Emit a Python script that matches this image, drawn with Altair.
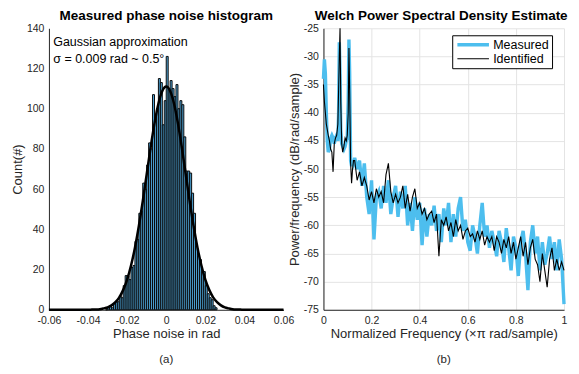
import altair as alt
import pandas as pd

FONT = "Liberation Sans"
INK = "#262626"

# ---------------- (a) histogram ----------------
bin_centers = [-0.0305, -0.0295, -0.0285, -0.0275, -0.0265, -0.0255, -0.0245, -0.0235,
               -0.0225, -0.0215, -0.0205, -0.0195, -0.0185, -0.0175, -0.0165, -0.0155,
               -0.0145, -0.0135, -0.0125, -0.0115, -0.0105, -0.0095, -0.0085, -0.0075,
               -0.0065, -0.0055, -0.0045, -0.0035, -0.0025, -0.0015, -0.0005, 0.0005,
               0.0015, 0.0025, 0.0035, 0.0045, 0.0055, 0.0065, 0.0075, 0.0085,
               0.0095, 0.0105, 0.0115, 0.0125, 0.0135, 0.0145, 0.0155, 0.0165,
               0.0175, 0.0185, 0.0195, 0.0205, 0.0215, 0.0225, 0.0235, 0.0245, 0.0255]
counts = [0, 1, 2, 1, 3, 4, 4, 7, 6, 12, 17, 17, 15, 21, 22, 34, 35, 48, 49, 63, 60, 72,
          83, 80, 107, 95, 100, 115, 113, 92, 104, 126, 110, 114, 110, 106, 112, 100, 104,
          102, 86, 69, 69, 68, 58, 48, 32, 27, 25, 19, 19, 12, 8, 6, 5, 2, 1]
BIN_HALF = 0.0005

fit_x = [-0.060, -0.058, -0.056, -0.054, -0.052, -0.050, -0.048, -0.046, -0.044, -0.042,
         -0.040, -0.038, -0.036, -0.034, -0.032, -0.030, -0.028, -0.026, -0.024, -0.022,
         -0.020, -0.018, -0.016, -0.014, -0.012, -0.010, -0.008, -0.006, -0.004, -0.002,
         0.000, 0.002, 0.004, 0.006, 0.008, 0.010, 0.012, 0.014, 0.016, 0.018,
         0.020, 0.022, 0.024, 0.026, 0.028, 0.030, 0.032, 0.034, 0.036, 0.038,
         0.040, 0.042, 0.044, 0.046, 0.048, 0.050, 0.052, 0.054, 0.056, 0.058, 0.060]
fit_y = [0, 0, 0, 0, 0, 0, 0, 0, 0, 0,
         0, 0.08, 0.15, 0.3, 0.7, 1.2, 2.2, 3.8, 6.2, 9.9,
         15.0, 22.0, 30.9, 41.7, 54.0, 67.3, 80.6, 92.7, 102.5, 108.8,
         111.0, 108.8, 102.5, 92.7, 80.6, 67.3, 54.0, 41.7, 30.9, 22.0,
         15.0, 9.9, 6.2, 3.8, 2.2, 1.2, 0.7, 0.3, 0.15, 0.08,
         0, 0, 0, 0, 0, 0, 0, 0, 0, 0, 0]

note_lines = ["Gaussian approximation", "σ = 0.009 rad ~ 0.5°"]
note_x = [-0.0578, -0.0578]
note_y = [133, 124.6]

# ---------------- (b) PSD ----------------
freq = [0.000, 0.004, 0.008, 0.012, 0.016, 0.020, 0.025, 0.030, 0.035, 0.040,
        0.045, 0.050, 0.055, 0.060, 0.063, 0.066, 0.069, 0.072, 0.076, 0.080,
        0.085, 0.090, 0.095, 0.099, 0.103, 0.106, 0.109, 0.113, 0.117, 0.121, 0.125,
        0.13, 0.14, 0.15, 0.16, 0.17, 0.18, 0.19, 0.20, 0.21, 0.22,
        0.23, 0.24, 0.25, 0.26, 0.27, 0.28, 0.29, 0.30, 0.31, 0.32,
        0.33, 0.34, 0.35, 0.36, 0.37, 0.38, 0.39, 0.40, 0.41, 0.42,
        0.43, 0.44, 0.45, 0.46, 0.47, 0.48, 0.49, 0.50, 0.51, 0.52,
        0.53, 0.54, 0.55, 0.56, 0.57, 0.58, 0.59, 0.60, 0.61, 0.62,
        0.63, 0.64, 0.65, 0.66, 0.67, 0.68, 0.69, 0.70, 0.71, 0.72,
        0.73, 0.74, 0.75, 0.76, 0.77, 0.78, 0.79, 0.80, 0.81, 0.82,
        0.83, 0.84, 0.85, 0.86, 0.87, 0.88, 0.89, 0.90, 0.91, 0.92,
        0.93, 0.94, 0.95, 0.96, 0.97, 0.98, 0.99, 1.00]
measured = [-34, -30.5, -33, -40, -45, -47, -46.5, -44.5, -44, -44.5,
            -45.5, -44.5, -44, -45, -40, -27.5, -33, -43, -45.5, -46,
            -46.5, -46, -45, -44.5, -38, -27, -33, -48.5, -49.5, -48.5, -49,
            -48, -50, -48.5, -53, -49, -55, -58, -52, -62.5, -55,
            -54, -57, -53, -56, -52, -58, -55, -53, -58.5, -54,
            -57, -53, -60, -56, -61, -55, -59, -56, -63.5, -57,
            -62, -58, -60, -56.5, -61, -58, -63, -57, -60, -56,
            -63, -58, -62, -57, -55, -61, -59, -63, -64.5, -60,
            -62, -65, -60, -56, -62, -60, -64, -61, -63, -65.5,
            -61, -63, -66.5, -60.5, -64, -68, -62, -64, -69, -63,
            -61, -65, -71.5, -63, -60, -65, -62, -68, -63, -67,
            -65, -62, -66, -63, -68, -62.5, -66, -74]
identified = [-35, -38, -40, -42, -43, -44, -45, -46.5, -47, -50.5,
              -45.5, -44.5, -44, -42, -36, -30, -25, -38, -45.5, -47,
              -46, -44.5, -45, -44, -40, -28.5, -36, -49, -52.5, -50, -48.5,
              -48.5, -52, -50.5, -53, -51.5, -53, -55.5, -54, -56, -53.5,
              -55, -54, -56, -51, -49, -54, -56, -54.5, -56, -55,
              -53, -57, -54.5, -57.5, -55, -53.5, -57, -56, -58, -57,
              -59, -58, -57.5, -59.5, -58, -65.5, -59, -60, -58.5, -61,
              -59.5, -62, -59, -61, -60, -62.5, -61, -60.5, -62, -61.5,
              -63, -61, -62.5, -61, -63.5, -62, -63, -62, -64.5, -62,
              -63, -65, -62.5, -64, -62, -65, -63, -66, -64, -62,
              -65.5, -63, -67, -64, -62.5, -66, -67, -70, -65, -68,
              -71, -66, -64, -68, -66, -68, -66.5, -68]
series_names = ["Measured", "Identified"]
series_colors = ["#4DBEEE", "#000000"]
series_widths = [3.4, 1.1]

titles = ["Measured phase noise histogram", "Welch Power Spectral Density Estimate"]
captions = ["(a)", "(b)"]

W_A, W_B, H = 235, 241, 282
TITLE_Y = -8.5
CAP_Y = H + 50


def title_layer(text, w, shift=0):
    return alt.Chart(pd.DataFrame({"t": [text]})).mark_text(
        font=FONT, fontSize=13.5, fontWeight="bold", color="black",
        baseline="alphabetic", align="center").encode(
        x=alt.value(w / 2 + shift), y=alt.value(TITLE_Y), text="t:N")


def caption_layer(text, w):
    return alt.Chart(pd.DataFrame({"t": [text]})).mark_text(
        font=FONT, fontSize=11.5, color=INK, baseline="middle").encode(
        x=alt.value(w / 2), y=alt.value(CAP_Y), text="t:N")


# ---------- panel (a) ----------
hist_df = pd.DataFrame({"lo": [c - BIN_HALF for c in bin_centers],
                        "hi": [c + BIN_HALF for c in bin_centers],
                        "count": counts, "base": [0] * len(counts)})
fit_df = pd.DataFrame({"lo": fit_x, "count": fit_y})
note_df = pd.DataFrame({"t": note_lines, "lo": note_x, "count": note_y})

xa = alt.X("lo:Q", title="Phase noise in rad",
           scale=alt.Scale(domain=[-0.06, 0.06], nice=False),
           axis=alt.Axis(values=[-0.06, -0.04, -0.02, 0, 0.02, 0.04, 0.06], grid=False,
                         labelFlush=False, labelOverlap=False,
                         labelExpr="datum.value == 0 ? '0' : (datum.value < 0 ? '-' : '') + format(abs(datum.value), '.2f')"))
ya = alt.Y("count:Q", title="Count(#)",
           scale=alt.Scale(domain=[0, 140], nice=False),
           axis=alt.Axis(values=[0, 20, 40, 60, 80, 100, 120, 140], grid=False))

bars = alt.Chart(hist_df).mark_bar(fill="#4fa8dc", stroke="#0a0a0a", strokeWidth=1.0).encode(
    x=xa, x2="hi:Q", y=ya, y2="base:Q")
fit = alt.Chart(fit_df).mark_line(color="black", strokeWidth=2.5, interpolate="monotone").encode(
    x=xa, y=ya)
notes = alt.Chart(note_df).mark_text(align="left", baseline="middle", font=FONT,
                                     fontSize=12.5, color="black").encode(
    x=xa, y=ya, text="t:N")

panel_a = alt.layer(bars, fit, notes, title_layer(titles[0], W_A),
                    caption_layer(captions[0], W_A)).properties(width=W_A, height=H)

# ---------- panel (b) ----------
psd_m = pd.DataFrame({"f": freq, "p": measured, "series": series_names[0]})
psd_i = pd.DataFrame({"f": freq, "p": identified, "series": series_names[1]})

xb = alt.X("f:Q", title="Normalized Frequency  (×π rad/sample)",
           scale=alt.Scale(domain=[0, 1], nice=False),
           axis=alt.Axis(values=[0, 0.2, 0.4, 0.6, 0.8, 1], grid=True, labelFlush=False,
                         labelExpr="datum.value == 0 ? '0' : datum.value == 1 ? '1' : format(datum.value, '.1f')"))
yb = alt.Y("p:Q", title="Power/frequency (dB/rad/sample)",
           scale=alt.Scale(domain=[-75, -25], nice=False),
           axis=alt.Axis(values=[-75, -70, -65, -60, -55, -50, -45, -40, -35, -30, -25], grid=True,
                         labelExpr="(datum.value < 0 ? '-' : '') + format(abs(datum.value), 'd')"))
leg = dict(title=None, orient="none", legendX=404, legendY=7,
           symbolType="stroke", symbolSize=1000, clipHeight=13, labelFontSize=12.5,
           labelFont=FONT, labelColor="black", fillColor="white",
           strokeColor="black", padding=3, labelOffset=2, rowPadding=1)
col = alt.Color("series:N", scale=alt.Scale(domain=series_names, range=series_colors),
                legend=alt.Legend(**leg))
sw = alt.StrokeWidth("series:N", scale=alt.Scale(domain=series_names, range=series_widths),
                     legend=alt.Legend(**leg))

line_m = alt.Chart(psd_m).mark_line().encode(x=xb, y=yb, color=col, strokeWidth=sw)
line_i = alt.Chart(psd_i).mark_line().encode(x=xb, y=yb, color=col, strokeWidth=sw)

panel_b = alt.layer(line_m, line_i, title_layer(titles[1], W_B, -2.5),
                    caption_layer(captions[1], W_B)).properties(width=W_B, height=H)

chart = alt.hconcat(panel_a, panel_b, spacing=40, bounds="flush").properties(
    padding={"left": 3, "top": 0, "right": 0, "bottom": 0}
).configure_view(stroke=None).configure_axis(
    labelFont=FONT, titleFont=FONT, labelFontSize=10.5, titleFontSize=13,
    labelColor=INK, titleColor=INK, titleFontWeight="normal",
    domainColor=INK, domainWidth=1, ticks=False, labelPadding=5,
    gridColor="#e4e4e4", gridWidth=1
).configure_axisX(titlePadding=1, labelPadding=6).configure_axisY(titlePadding=2)

chart.save("out.html", embed_options={"renderer": "svg", "actions": False})
